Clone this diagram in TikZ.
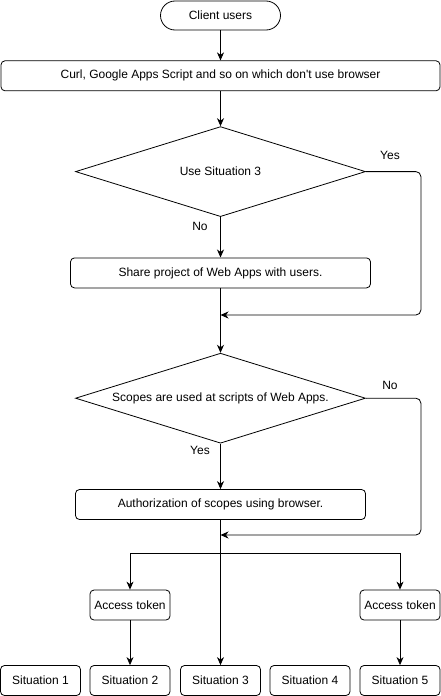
\documentclass[tikz,border=0pt]{standalone}
\usepackage{fontspec}
\setmainfont{Liberation Sans}
\usetikzlibrary{arrows.meta,positioning,shapes.geometric}

\begin{document}
\begin{tikzpicture}[
  x=1pt, y=-1pt,
  font=\fontsize{12}{14}\selectfont,
  line width=0.8pt,
  startbox/.style={
    draw, rounded corners=14.5pt, inner sep=0pt,
    minimum height=29pt, minimum width=120pt
  },
  procbox/.style={
    draw, rounded corners=4pt, align=center, inner sep=0pt,
    minimum height=30pt
  },
  decision/.style={
    draw, diamond, aspect=3.2, inner sep=0pt,
    minimum width=290pt, minimum height=90pt
  },
  arr/.style={-{Stealth[length=8pt,width=7pt,inset=2.5pt]}},
  loop/.style={arr, rounded corners=5pt}
]
\useasboundingbox (0,0) rectangle (441,696);

\node[startbox] (start) at (220.5,15.5) {Client users};
\node[procbox, minimum width=439pt, below=30pt of start] (clients) {Curl, Google Apps Script and so on which don\textquotesingle t use browser};
\node[decision, below=35pt of clients] (dec1) {Use Situation 3};
\node[procbox, minimum width=300pt, below=40.5pt of dec1] (share) {Share project of Web Apps with users.};
\node[decision, below=64.5pt of share] (dec2) {Scopes are used at scripts of Web Apps.};
\node[procbox, minimum width=290pt, below=45.5pt of dec2] (auth) {Authorization of scopes using browser.};

\node[procbox, minimum width=80pt] (tok1) at (130,605) {Access token};
\node[procbox, minimum width=80pt] (tok2) at (400,605) {Access token};

\node[procbox, minimum width=80pt] (s1) at (40.5,680.5) {Situation 1};
\node[procbox, minimum width=80pt] (s2) at (130,680.5) {Situation 2};
\node[procbox, minimum width=80pt] (s3) at (220.5,680.5) {Situation 3};
\node[procbox, minimum width=80pt] (s4) at (310,680.5) {Situation 4};
\node[procbox, minimum width=80pt] (s5) at (400,680.5) {Situation 5};

\node (yes1) at (390,155) {Yes};
\node (no1) at (200,226) {No};
\node (no2) at (390,385) {No};
\node (yes2) at (200,450) {Yes};

\coordinate (join1) at (220.5,315);
\coordinate (join2) at (220.5,535);
\coordinate (fork) at (220.5,553);

\draw[arr] (start) -- (clients);
\draw[arr] (clients) -- (dec1);
\draw[arr] (dec1) -- (share);
\draw[loop] (dec1.east) -- ++(55,0) |- (join1);
\draw[arr] (share) -- (dec2);
\draw[arr] (dec2) -- (auth);
\draw[loop] (dec2.east) -- ++(55,0) |- (join2);
\draw[arr] (auth) -- (s3);
\draw[arr] (fork) -| (tok1);
\draw[arr] (fork) -| (tok2);
\draw[arr] (tok1) -- (s2);
\draw[arr] (tok2) -- (s5);
\end{tikzpicture}
\end{document}
